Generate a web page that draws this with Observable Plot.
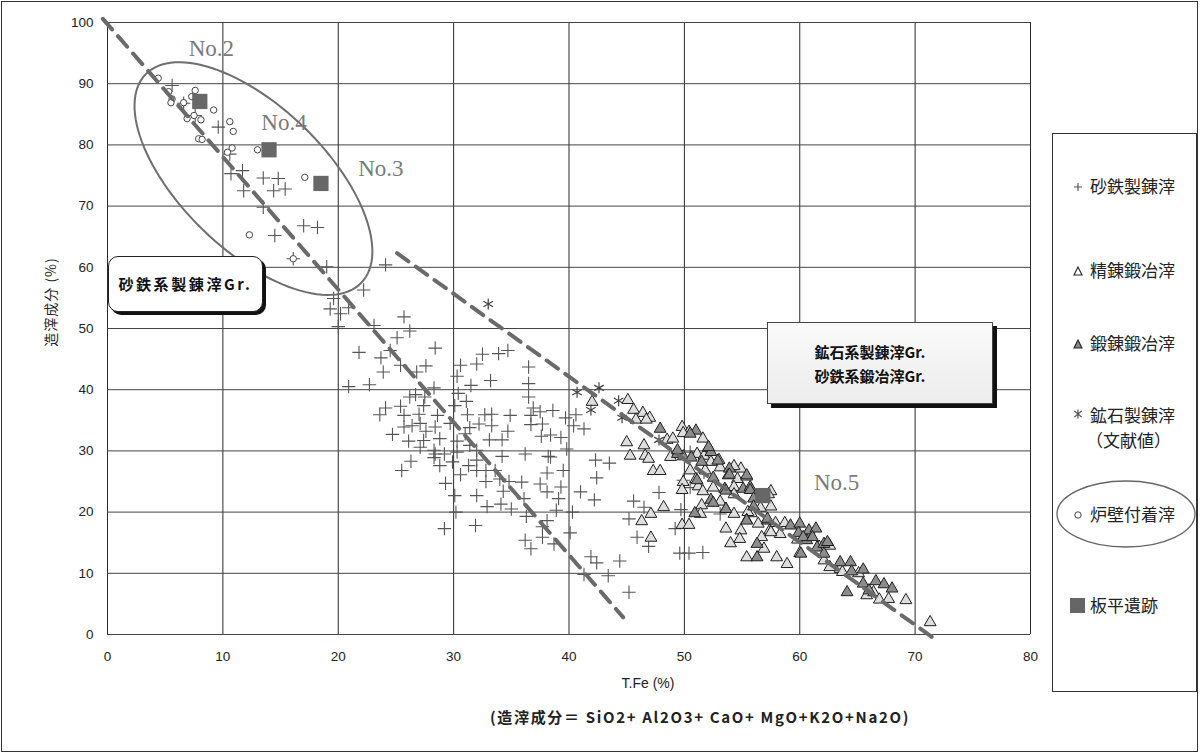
<!DOCTYPE html>
<html><head><meta charset="utf-8">
<script src="https://cdn.jsdelivr.net/npm/d3@7"></script>
<script src="https://cdn.jsdelivr.net/npm/@observablehq/plot@0.6"></script>
<style>
body{margin:0;background:#fff;}
#wrap{position:relative;width:1202px;height:756px;overflow:hidden;font-family:"Noto Sans CJK JP","Liberation Sans",sans-serif;color:#222;}
#outer{position:absolute;left:1px;top:1px;width:1197px;height:751px;border:1px solid #333;box-sizing:border-box;}
#chart{position:absolute;left:0;top:0;}
.box{position:absolute;box-sizing:border-box;font-weight:bold;text-align:center;color:#111;}
#box1{left:108px;top:256px;width:155px;height:56px;border:1.5px solid #222;border-radius:10px;background:#fff;box-shadow:3px 3px 0 #111;font-size:15px;letter-spacing:2.6px;line-height:54px;}
#box2{left:767px;top:322px;width:226px;height:82px;border:1px solid #444;background:linear-gradient(#fafafa,#ececec);box-shadow:4px 4px 0 #111;font-size:15px;line-height:24px;padding-top:17px;padding-right:20px;}
#legend{position:absolute;left:1052px;top:133px;width:145px;height:559px;border:1px solid #333;box-sizing:border-box;background:#fff;}
.li{position:absolute;left:0;font-size:17px;white-space:nowrap;}
.li svg{position:absolute;}
.axl{position:absolute;font-family:"Liberation Sans",sans-serif;font-size:13px;color:#222;white-space:nowrap;}
</style></head>
<body>
<div id="wrap">
  <div id="outer"></div>
  <div id="chart"></div>
  <div class="box" id="box1">砂鉄系製錬滓Gr.</div>
  <div class="box" id="box2">鉱石系製錬滓Gr.<br>砂鉄系鍛冶滓Gr.</div>
  <div id="legend"></div>
  <div class="axl" id="xlab" style="left:648px;top:675px;transform:translateX(-50%);font-size:14px;">T.Fe (%)</div>
  <div class="axl" id="ylab" style="left:50px;top:302px;transform:translate(-50%,-50%) rotate(-90deg);font-family:'Noto Sans CJK JP',sans-serif;font-size:14px;letter-spacing:1px;">造滓成分 (%)</div>
  <div class="axl" id="cap" style="left:490px;top:706px;font-family:'Noto Sans CJK JP',sans-serif;font-weight:bold;font-size:15px;">(造滓成分＝ SiO2+ Al2O3+ CaO+ MgO+K2O+Na2O)</div>
</div>
<script>
// ---------- data ----------
const xTicks = [0,10,20,30,40,50,60,70,80];
const yTicks = [0,10,20,30,40,50,60,70,80,90,100];

// 砂鉄製錬滓 (+)
const sandSmelting = [
[5.6,89.7],[6.6,86.8],[7.6,84.8],[9.6,82.9],[10.6,78.5],[10.7,75.3],[11.7,75.8],[13.5,74.6],[14.8,74.5],[14.4,72.5],[15.4,72.8],[11.8,72.5],[13.5,69.8],[17.0,66.8],[18.2,66.5],[14.5,65.2],[16.1,61.4],[19.0,60.1],[19.6,54.9],[19.3,53.2],[20.2,52.4],[20.9,53.4],[20.0,50.3],[21.8,46.1],[20.9,40.5],
[24.1,60.4],[22.2,56.3],[25.7,51.9],[23.1,50.5],[26.2,49.6],[25.1,48.5],[28.4,46.8],[23.7,45.2],[24.5,46.4],[25.4,44.0],[23.9,42.9],[26.8,42.9],[27.6,43.9],[30.6,44.0],[30.3,42.2],[32.0,44.2],[32.5,45.8],[33.9,45.9],[34.7,46.4],[33.2,41.5],[31.5,40.7],[36.5,43.7],[36.5,41.0],[36.5,38.8],[22.7,40.8],[28.3,40.3],[30.4,39.4],[31.1,38.1],[30.1,37.4],[26.7,39.2],[27.5,38.8],[26.2,38.8],[27.4,37.4],[24.1,37.0],[25.4,37.3],[23.6,35.9],[25.7,35.8],[27.0,36.0],[28.6,35.8],[31.2,35.9],[32.7,35.9],[33.3,36.0],[34.9,35.8],[36.7,35.8],[37.5,36.4],[36.9,37.0],
[27.1,34.5],[25.7,33.9],[26.4,34.1],[28.4,33.9],[29.7,34.5],[31.4,33.8],[32.2,34.4],[33.3,34.1],[36.7,34.3],[37.7,34.4],[24.7,32.7],[27.6,33.2],[26.1,31.6],[27.4,31.7],[28.8,32.0],[30.3,31.6],[31.0,32.8],[33.1,31.8],[34.2,31.8],[34.7,33.2],[37.6,32.4],[28.3,30.1],[29.2,29.5],[30.3,29.8],[31.4,30.9],[32.0,30.1],[34.2,29.1],[36.2,29.5],[38.2,29.1],[28.3,28.9],[29.9,28.2],[28.8,27.6],[26.3,28.3],[25.5,26.8],[30.6,26.1],[31.3,27.6],[32.0,28.5],[32.0,26.8],[32.8,26.8],[33.6,26.8],[34.0,25.4],[34.8,25.0],[32.8,25.0],[35.9,24.9],[37.5,24.6],[38.1,26.4],[38.1,23.3],[34.3,23.4],[29.3,24.7],[30.1,22.7],[32.0,22.7],[36.1,22.2],[32.9,20.9],[34.1,21.3],[35.0,20.5],[30.2,20.0],[36.3,19.3],[38.1,18.6],[37.7,17.6],[29.2,17.3],[31.9,17.8],[37.7,15.9],[36.2,15.4],[36.7,14.0],[27.1,30.6],[28.4,29.5],
[38.6,36.6],[39.7,35.4],[40.6,35.9],[40.4,34.1],[41.3,33.6],[38.4,32.6],[39.3,32.2],[39.8,30.3],[38.4,29.0],[42.3,28.5],[43.5,28.0],[39.5,26.8],[42.4,25.6],[39.3,24.1],[41.0,23.3],[47.8,23.2],[39.1,22.2],[42.2,22.0],[40.3,20.0],[38.9,20.3],[45.6,21.8],[46.5,20.8],[45.2,18.9],[40.1,16.6],[45.9,15.9],[46.9,14.4],[38.7,14.8],[49.6,13.3],[50.4,13.3],[51.6,13.4],[49.2,17.3],[49.7,20.4],[41.9,12.7],[42.4,11.7],[44.4,12.0],[41.3,9.8],[43.4,9.6],[45.2,6.9],[50.5,29.8],[51.7,26.5],[49.9,25.2],[50.5,24.0],[53.1,19.7]
];

// 精錬鍛冶滓 (open triangle)
const refiningSmithing = [
[45.1,38.3],[42.0,38.0],[45.6,36.7],[46.4,36.2],[47.0,35.4],[45.8,35.1],[46.7,35.1],[49.8,33.9],[50.4,33.1],[51.6,32.0],[48.5,31.8],[49.0,32.0],[45.0,31.4],[46.5,30.9],[45.3,29.2],[46.6,29.2],[46.9,28.7],[48.8,29.0],[51.1,29.5],[51.7,29.2],[52.3,28.2],[53.1,27.3],[54.9,27.1],[47.3,26.7],[47.9,26.7],[50.5,26.8],[51.8,26.8],[54.6,25.4],[49.9,24.9],[51.0,25.4],[51.2,24.2],[49.8,23.6],[51.6,23.4],[52.5,24.0],[54.3,24.1],[57.5,23.4],[51.5,21.1],[53.1,21.7],[48.2,20.8],[51.4,19.7],[53.6,20.5],[54.3,19.7],[55.8,19.8],[47.1,19.7],[46.3,18.5],[49.8,17.9],[50.4,17.9],[56.4,18.1],[53.6,17.3],[54.9,17.0],[57.4,17.0],[47.1,15.8],[54.8,15.6],[56.7,15.9],[54.0,14.9],[55.4,12.6],[58.0,12.6],[56.9,14.0],[58.9,11.5],[60.0,13.3],[62.6,14.5],[62.1,12.1],[62.6,11.0],[63.5,10.7],[65.1,10.0],[63.7,10.2],[65.8,6.4],[66.4,6.9],[66.9,5.7],[67.7,5.8],[69.2,5.6],[71.3,2.0],[49.9,32.9],[53.0,28.5],[55.4,25.8],[54.3,22.9],[57.3,22.9],[57.5,20.9],[56.6,20.7],[55.5,20.0],[55.4,18.7],[57.9,18.2],[58.7,18.2],[59.8,15.5],[58.3,16.4],[57.5,16.7],[61.7,14.3],[54.3,27.5]
];

// 鍛錬鍛冶滓 (filled triangle)
const forgingSmithing = [
[47.9,33.6],[51.0,33.3],[49.4,29.5],[49.9,29.1],[50.6,28.9],[52.1,30.5],[51.5,28.2],[52.9,28.4],[53.9,27.1],[53.8,26.0],[55.4,26.0],[53.5,23.8],[55.1,23.8],[55.7,24.1],[52.3,22.0],[52.5,21.5],[50.9,19.8],[55.4,18.6],[57.2,18.6],[56.3,14.8],[56.3,12.6],[61.5,14.2],[62.1,14.8],[62.1,13.2],[63.5,11.8],[64.4,11.8],[64.5,10.3],[65.5,10.6],[64.1,6.9],[65.5,8.3],[66.0,7.2],[66.6,8.7],[67.3,8.2],[68.0,7.5],[50.5,32.8],[49.4,30.1],[52.3,29.8],[53.9,26.1],[52.5,25.6],[51.1,25.2],[53.6,23.5],[55.7,23.6],[56.0,22.2],[56.0,20.9],[53.6,20.5],[57.2,18.9],[59.2,17.8],[60.0,18.1],[59.9,16.6],[60.6,16.3],[60.6,15.4],[60.8,17.0],[61.4,17.3],[60.3,15.9],[61.1,15.9],[60.1,13.2],[62.4,15.1],[52.1,30.6]
];

// 鉱石製錬滓 (文献値)
const oreSmelting = [[33.0,54.0],[40.7,39.6],[42.6,40.3],[41.9,36.7],[44.3,38.2],[44.6,35.4],[47.8,31.8]];

// 炉壁付着滓
const furnaceWall = [
[4.4,90.9],[5.3,88.7],[5.6,87.5],[5.5,86.9],[6.6,86.9],[7.3,87.9],[7.6,88.9],[9.2,85.7],[7.5,84.8],[8.1,84.1],[6.9,84.3],[7.9,81.0],[8.2,80.9],[10.6,83.8],[10.9,82.2],[10.8,79.5],[10.4,78.8],[13.0,79.2],[17.1,74.7],[12.3,65.3],[16.1,61.4]
];

// 板平遺跡
const itadaira = [[8.0,87.1],[14.0,79.2],[18.5,73.7],[56.8,22.7]];
const siteLabels = [
  {text:"No.2", x:9.0, y:95.8},
  {text:"No.4", x:15.3, y:83.7},
  {text:"No.3", x:23.7, y:76.1},
  {text:"No.5", x:63.2, y:24.8}
];

// dashed guide lines (data units)
const guideA = [[-0.4,100.6],[44.7,2.8]];
const guideB = [[25.1,62.3],[71.6,-0.6]];

// group ellipse: centre in data units, axes in px, rotation in degrees
const ringCenter = [12.65, 74.5];
const ringAxes = [150, 72];
const ringAngle = 44;

const legendItems = [
  {sym:"plus", label:"砂鉄製錬滓", y:42},
  {sym:"tri", label:"精錬鍛冶滓", y:126},
  {sym:"triF", label:"鍛錬鍛冶滓", y:199},
  {sym:"ast", label:"鉱石製錬滓", label2:"（文献値）", y:268},
  {sym:"circ", label:"炉壁付着滓", y:370},
  {sym:"sq", label:"板平遺跡", y:461}
];

// ---------- layout ----------
const W = 1202, H = 756, mL = 107, mR = 172, mT = 22, mB = 122;
const kx = (W - mL - mR) / 80, ky = (H - mT - mB) / 100;

const ring = d3.range(0, 121).map(i => {
  const t = i / 120 * 2 * Math.PI, th = ringAngle * Math.PI / 180;
  const dx = ringAxes[0] * Math.cos(t) * Math.cos(th) - ringAxes[1] * Math.sin(t) * Math.sin(th);
  const dy = ringAxes[0] * Math.cos(t) * Math.sin(th) + ringAxes[1] * Math.sin(t) * Math.cos(th);
  return [ringCenter[0] + dx / kx, ringCenter[1] - dy / ky];
});

const X = d => d[0], Y = d => d[1];
const chart = Plot.plot({
  width: W, height: H,
  marginLeft: mL, marginRight: mR, marginTop: mT, marginBottom: mB,
  style: {fontFamily: "'Liberation Sans', Arial, sans-serif", fontSize: "13.5px", color: "#222", background: "transparent", overflow: "visible"},
  x: {domain: [0, 80], ticks: xTicks, tickSize: 0, tickPadding: 17, label: null, tickFormat: d => String(d)},
  y: {domain: [0, 100], ticks: yTicks, tickSize: 0, tickPadding: 14, label: null, tickFormat: d => String(d)},
  marks: [
    Plot.ruleX(xTicks, {stroke: "#2a2a2a", strokeWidth: 1}),
    Plot.ruleY(yTicks, {stroke: "#444", strokeWidth: 1}),
    Plot.dot(sandSmelting, {x: X, y: Y, symbol: "plus", r: 4.4, stroke: "#555", strokeWidth: 1.1}),
    Plot.dot(furnaceWall, {x: X, y: Y, symbol: "circle", r: 3.2, stroke: "#444", fill: "white", strokeWidth: 1}),
    Plot.dot(refiningSmithing, {x: X, y: Y, symbol: "triangle", r: 4.4, fill: "#dedede", stroke: "#1e1e1e", strokeWidth: 1}),
    Plot.dot(forgingSmithing, {x: X, y: Y, symbol: "triangle", r: 4.4, fill: "#8c8c8c", stroke: "#1e1e1e", strokeWidth: 1}),
    Plot.dot(oreSmelting, {x: X, y: Y, symbol: "asterisk", r: 5.2, stroke: "#444", strokeWidth: 1.2}),
    Plot.line(guideA, {x: X, y: Y, stroke: "#6a6a6a", strokeWidth: 4, strokeDasharray: "14,9"}),
    Plot.line(guideB, {x: X, y: Y, stroke: "#6a6a6a", strokeWidth: 4, strokeDasharray: "14,9"}),
    Plot.line(ring, {x: X, y: Y, stroke: "#6e6e6e", strokeWidth: 2}),
    Plot.dot(itadaira, {x: X, y: Y, symbol: "square", r: 8.6, fill: "#676767", stroke: "none"}),
    Plot.text(siteLabels, {x: "x", y: "y", text: "text", fill: "#7a7a7a", fontSize: 23, fontFamily: "'Liberation Serif', 'DejaVu Serif', serif"})
  ]
});
document.getElementById("chart").appendChild(chart);

// caption: spread to the reference width
const cap = document.getElementById("cap");
const capTarget = 420;
const capW = cap.getBoundingClientRect().width;
cap.style.letterSpacing = Math.max(0, (capTarget - capW) / cap.textContent.length) + "px";

// ---------- legend ----------
const symSvg = {
  plus: '<svg width="12" height="12" style="left:19px;top:5px"><path d="M6 2V10M2 6H10" stroke="#555" stroke-width="1.2"/></svg>',
  tri: '<svg width="12" height="12" style="left:19px;top:5px"><path d="M6 2L10 10H2Z" fill="#fff" stroke="#222" stroke-width="1.1"/></svg>',
  triF: '<svg width="12" height="12" style="left:19px;top:5px"><path d="M6 2L10 10H2Z" fill="#888" stroke="#222" stroke-width="1.1"/></svg>',
  ast: '<svg width="12" height="12" style="left:19px;top:6px"><path d="M6 1.5V10.5M2.3 2.8L9.7 9.2M9.7 2.8L2.3 9.2" stroke="#444" stroke-width="1.1"/></svg>',
  circ: '<svg width="12" height="12" style="left:19px;top:5px"><circle cx="6" cy="6" r="3.2" fill="#fff" stroke="#444" stroke-width="1"/></svg>',
  sq: '<svg width="16" height="16" style="left:17px;top:3px"><rect x="0" y="0" width="15" height="15" fill="#666"/></svg>'
};
const leg = document.getElementById("legend");
legendItems.forEach(it => {
  const d = document.createElement("div");
  d.className = "li";
  d.style.top = it.y + "px";
  d.style.width = "143px";
  d.style.lineHeight = it.label2 ? "25px" : "20px";
  d.style.height = it.label2 ? "50px" : "20px";
  d.innerHTML = symSvg[it.sym] + '<span style="position:absolute;left:37px;top:0">' + it.label + (it.label2 ? '<br><span style="margin-left:-4px">' + it.label2 + '</span>' : '') + '</span>';
  leg.appendChild(d);
});
const ell = document.createElementNS("http://www.w3.org/2000/svg", "svg");
ell.setAttribute("width", "143"); ell.setAttribute("height", "80");
ell.style.position = "absolute"; ell.style.left = "0px"; ell.style.top = "340px";
ell.innerHTML = '<ellipse cx="73" cy="40" rx="69" ry="33" fill="none" stroke="#666" stroke-width="1.3"/>';
leg.appendChild(ell);
</script>
</body></html>
